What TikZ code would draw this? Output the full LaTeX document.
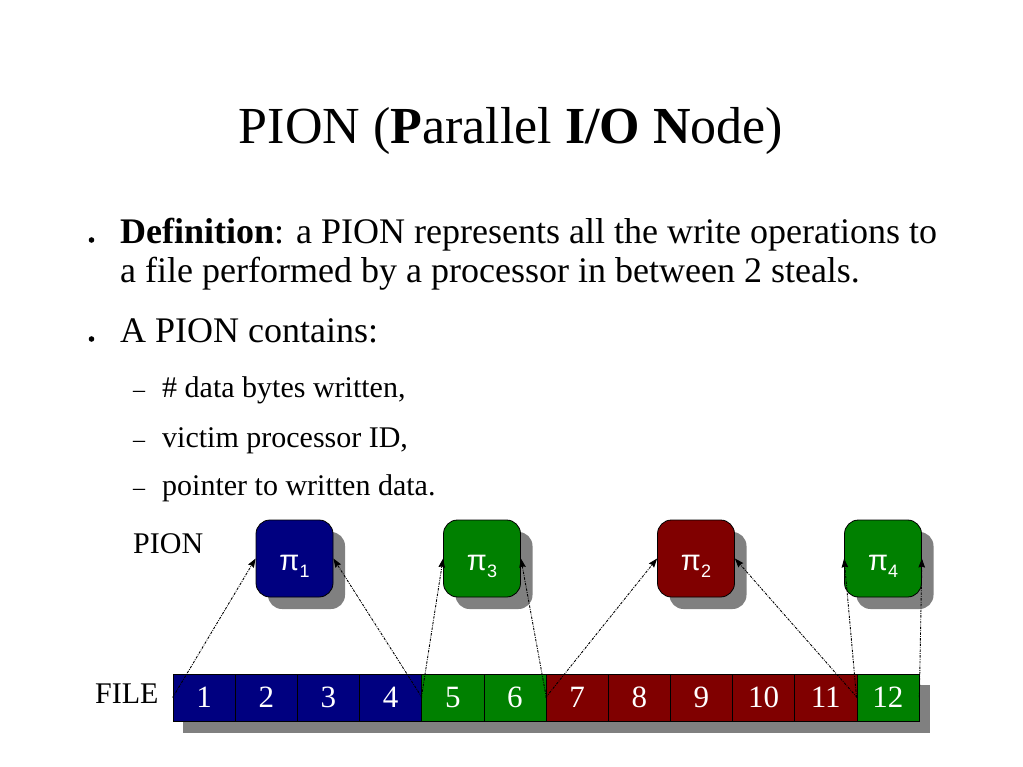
\documentclass[tikz,border=0pt]{standalone}
\usepackage{fontspec}
\setmainfont{Liberation Serif}
\newfontfamily\arialfont{Liberation Sans}
\usetikzlibrary{arrows.meta,shadows}
\definecolor{navyc}{HTML}{000080}
\definecolor{greenc}{HTML}{008000}
\definecolor{maroonc}{HTML}{800000}
\definecolor{shadowc}{HTML}{808080}
\newcommand{\fsz}[1]{\fontsize{#1}{#1}\selectfont}
\newcommand{\pisub}[1]{\raisebox{-7pt}{\fsz{18}#1}}
\begin{document}
\begin{tikzpicture}[x=1pt,y=-1pt,
  txt/.style={anchor=base west, inner sep=0pt, font=\fsz{36}},
  subtxt/.style={anchor=base west, inner sep=0pt, font=\fsz{30}},
  dashmark/.style={anchor=base west, inner sep=0pt, font=\fsz{24}},
  cell/.style={draw=black, line width=0.6pt, minimum width=62.17pt, minimum height=47pt,
    inner sep=0pt, text=white, font=\fsz{31}},
  pbox/.style={draw=black, line width=0.8pt, rounded corners=14pt, minimum width=77pt,
    minimum height=77pt, inner sep=0pt,
    drop shadow={shadow xshift=12pt, shadow yshift=-12pt, fill=shadowc, opacity=1}},
  plab/.style={anchor=base, inner sep=0pt, text=white, font=\arialfont\fsz{29}},
  conn/.style={line width=0.9pt, dash pattern=on 2.5pt off 1.2pt on 0.8pt off 1.2pt,
    -{Stealth[length=9pt,width=6.5pt,inset=1pt]}}
]
\useasboundingbox (0,0) rectangle (1023,767);

% title
\node[anchor=base, inner sep=0pt, font=\fsz{52}] (title) at (511,144)
  {PION (\textbf{P}arallel \textbf{I/O} \textbf{N}ode)};

% bullets
\fill (91.5,240) circle (2.8);
\fill (91.5,339) circle (2.8);
\node[txt] (l1) at (120,244) {\textbf{Definition}: a PION represents all the write operations to};
\node[txt] (l2) at (120,283) {a file performed by a processor in between 2 steals.};
\node[txt] (l3) at (120,343) {A PION contains:};

\node[dashmark] (d1) at (133,397.5) {–};
\node[dashmark] (d2) at (133,447.5) {–};
\node[dashmark] (d3) at (133,495.5) {–};
\node[subtxt] (s1) at (162,397) {\# data bytes written,};
\node[subtxt] (s2) at (162,447) {victim processor ID,};
\node[subtxt] (s3) at (162,495) {pointer to written data.};

% labels
\node[subtxt] (pionlab) at (133,553) {PION};
\node[subtxt] (filelab) at (95,703) {FILE};

% file strip shadow
\fill[shadowc] (183,685) rectangle (930,733);

% cells
\foreach \i/\c in {1/navyc,2/navyc,3/navyc,4/navyc,5/greenc,6/greenc,
                   7/maroonc,8/maroonc,9/maroonc,10/maroonc,11/maroonc,12/greenc}
  \node[cell, fill=\c] (c\i) at ({173+62.17*(\i-0.5)},697.5) {\i};

% PION boxes
\node[pbox, fill=navyc] (p1) at (294.5,558.5) {};
\node[pbox, fill=greenc] (p3) at (482,558.5) {};
\node[pbox, fill=maroonc] (p2) at (696,558.5) {};
\node[pbox, fill=greenc] (p4) at (883,558.5) {};

\node[plab] (t1) at ([yshift=-11.5pt]p1.center) {π\pisub{1}};
\node[plab] (t3) at ([yshift=-11.5pt]p3.center) {π\pisub{3}};
\node[plab] (t2) at ([yshift=-11.5pt]p2.center) {π\pisub{2}};
\node[plab] (t4) at ([yshift=-11.5pt]p4.center) {π\pisub{4}};

% connectors
\draw[conn] (c1.west) -- (p1.west);
\draw[conn] (c4.east) -- (p1.east);
\draw[conn] (c5.west) -- (p3.west);
\draw[conn] (c6.east) -- (p3.east);
\draw[conn] (c7.west) -- (p2.west);
\draw[conn] (c11.east) -- (p2.east);
\draw[conn] (c12.west) -- (p4.west);
\draw[conn] (c12.east) -- (p4.east);
\end{tikzpicture}
\end{document}
